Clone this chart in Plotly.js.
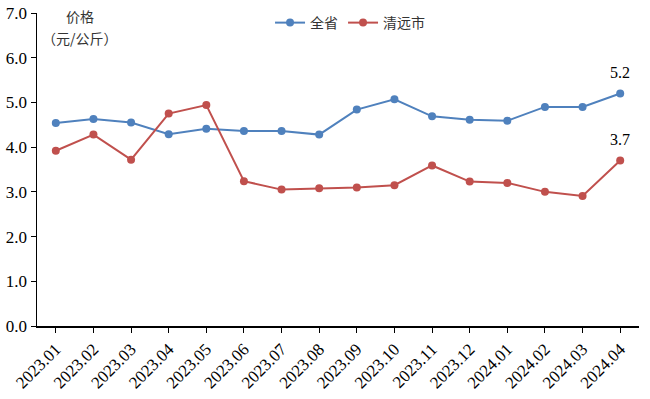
<!DOCTYPE html>
<html><head><meta charset="utf-8">
<script src="https://cdn.plot.ly/plotly-3.0.1.min.js"></script>
<style>body{margin:0;background:#fff}#c{width:650px;height:399px}</style>
</head><body><div id="c"></div>
<script>
const months = ["2023.01","2023.02","2023.03","2023.04","2023.05","2023.06","2023.07","2023.08","2023.09","2023.10","2023.11","2023.12","2024.01","2024.02","2024.03","2024.04"];
const province = [4.54,4.63,4.55,4.29,4.41,4.36,4.36,4.28,4.84,5.07,4.69,4.61,4.59,4.90,4.90,5.2];
const qingyuan = [3.92,4.28,3.72,4.75,4.94,3.24,3.05,3.08,3.10,3.15,3.59,3.23,3.20,3.00,2.91,3.7];
const yTicks = [0,1,2,3,4,5,6,7];

const serif = "Liberation Serif";
const cjk = "Noto Sans CJK SC";
const idx = months.map((_, i) => i);

const traces = [
  {x: idx, y: province, name: "全省", mode: "lines+markers",
   line: {color: "#4f81bd", width: 2}, marker: {size: 8, color: "#4f81bd"}},
  {x: idx, y: qingyuan, name: "清远市", mode: "lines+markers",
   line: {color: "#c0504d", width: 2}, marker: {size: 8, color: "#c0504d"}}
];
const last = months.length - 1;
const layout = {
  width: 650, height: 399,
  margin: {l: 37, r: 11, t: 7, b: 73},
  paper_bgcolor: "#fff", plot_bgcolor: "#fff",
  showlegend: true,
  legend: {orientation: "h", x: 0.52, y: 0.968, xanchor: "center", yanchor: "middle",
           font: {family: cjk, size: 14, color: "#333"}, bgcolor: "rgba(0,0,0,0)"},
  xaxis: {range: [-0.5, 15.5], tickvals: idx, ticktext: months, tickangle: -45,
          showgrid: false, zeroline: false, showline: true, linecolor: "#000", linewidth: 1.5,
          ticks: "outside", ticklen: 5, tickcolor: "#000", automargin: false,
          tickfont: {family: serif, size: 17, color: "#000"}},
  yaxis: {range: [0, 7], tickvals: yTicks, ticktext: yTicks.map(v => v.toFixed(1)),
          showgrid: false, zeroline: false, showline: true, linecolor: "#000", linewidth: 1.5,
          ticks: "outside", ticklen: 5, tickcolor: "#000", automargin: false,
          tickfont: {family: serif, size: 17, color: "#000"}},
  annotations: [
    {xref: "paper", yref: "paper", x: 0.072, y: 0.99, text: "价格", showarrow: false,
     xanchor: "center", yanchor: "middle",
     font: {family: cjk, size: 14, color: "#333"}},
    {xref: "paper", yref: "paper", x: 0.072, y: 0.92, text: "（元/公斤）", showarrow: false,
     xanchor: "center", yanchor: "middle",
     font: {family: cjk, size: 14, color: "#333"}},
    {x: last, y: province[last], text: province[last].toFixed(1), showarrow: false, yshift: 21,
     font: {family: serif, size: 16, color: "#000"}},
    {x: last, y: qingyuan[last], text: qingyuan[last].toFixed(1), showarrow: false, yshift: 21,
     font: {family: serif, size: 16, color: "#000"}}
  ]
};
Plotly.newPlot("c", traces, layout, {displayModeBar: false, staticPlot: true});
</script></body></html>
